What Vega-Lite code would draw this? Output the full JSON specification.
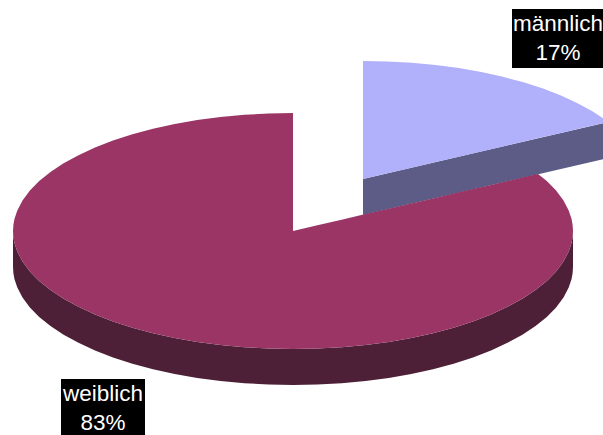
{"$schema":"https://vega.github.io/schema/vega-lite/v6.json","width":603,"height":435,"autosize":{"type":"none"},"padding":0,"background":"white","view":{"stroke":null},
"datasets":{"pie":[
{"part":"männlich Seite","x":363,"y":179,"y2":215},{"part":"männlich Seite","x":603,"y":123.2,"y2":159.2},
{"part":"männlich","x":363,"y":61,"y2":179},{"part":"männlich","x":387.4,"y":61.4,"y2":173.3},{"part":"männlich","x":411.6,"y":62.8,"y2":167.7},{"part":"männlich","x":435.5,"y":65,"y2":162.1},{"part":"männlich","x":458.8,"y":68.1,"y2":156.7},{"part":"männlich","x":481.3,"y":72.1,"y2":151.5},{"part":"männlich","x":503,"y":76.8,"y2":146.4},{"part":"männlich","x":523.6,"y":82.3,"y2":141.6},{"part":"männlich","x":543,"y":88.6,"y2":137.1},{"part":"männlich","x":561,"y":95.6,"y2":132.9},{"part":"männlich","x":577.5,"y":103.2,"y2":129.1},{"part":"männlich","x":592.4,"y":111.3,"y2":125.6},{"part":"männlich","x":603,"y":118.2,"y2":123.2},
{"part":"weiblich Seite","x":13,"y":231,"y2":267},{"part":"weiblich Seite","x":13.4,"y":237.2,"y2":273.2},{"part":"weiblich Seite","x":14.5,"y":243.3,"y2":279.3},{"part":"weiblich Seite","x":17.3,"y":251.5,"y2":287.5},{"part":"weiblich Seite","x":22.5,"y":261.5,"y2":297.5},{"part":"weiblich Seite","x":29.9,"y":271.4,"y2":307.4},{"part":"weiblich Seite","x":39.2,"y":280.9,"y2":316.9},{"part":"weiblich Seite","x":50.5,"y":290,"y2":326},{"part":"weiblich Seite","x":63.6,"y":298.7,"y2":334.7},{"part":"weiblich Seite","x":78.5,"y":306.8,"y2":342.8},{"part":"weiblich Seite","x":95,"y":314.4,"y2":350.4},{"part":"weiblich Seite","x":113,"y":321.4,"y2":357.4},{"part":"weiblich Seite","x":132.4,"y":327.7,"y2":363.7},{"part":"weiblich Seite","x":153,"y":333.2,"y2":369.2},{"part":"weiblich Seite","x":174.7,"y":337.9,"y2":373.9},{"part":"weiblich Seite","x":197.2,"y":341.9,"y2":377.9},{"part":"weiblich Seite","x":220.5,"y":345,"y2":381},{"part":"weiblich Seite","x":244.4,"y":347.2,"y2":383.2},{"part":"weiblich Seite","x":268.6,"y":348.6,"y2":384.6},{"part":"weiblich Seite","x":293,"y":349,"y2":385},{"part":"weiblich Seite","x":317.4,"y":348.6,"y2":384.6},{"part":"weiblich Seite","x":341.6,"y":347.2,"y2":383.2},{"part":"weiblich Seite","x":365.5,"y":345,"y2":381},{"part":"weiblich Seite","x":388.8,"y":341.9,"y2":377.9},{"part":"weiblich Seite","x":411.3,"y":337.9,"y2":373.9},{"part":"weiblich Seite","x":433,"y":333.2,"y2":369.2},{"part":"weiblich Seite","x":453.6,"y":327.7,"y2":363.7},{"part":"weiblich Seite","x":473,"y":321.4,"y2":357.4},{"part":"weiblich Seite","x":491,"y":314.4,"y2":350.4},{"part":"weiblich Seite","x":507.5,"y":306.8,"y2":342.8},{"part":"weiblich Seite","x":522.4,"y":298.7,"y2":334.7},{"part":"weiblich Seite","x":535.5,"y":290,"y2":326},{"part":"weiblich Seite","x":546.8,"y":280.9,"y2":316.9},{"part":"weiblich Seite","x":556.1,"y":271.4,"y2":307.4},{"part":"weiblich Seite","x":563.5,"y":261.5,"y2":297.5},{"part":"weiblich Seite","x":568.7,"y":251.5,"y2":287.5},{"part":"weiblich Seite","x":571.5,"y":243.3,"y2":279.3},{"part":"weiblich Seite","x":572.6,"y":237.2,"y2":273.2},{"part":"weiblich Seite","x":573,"y":231,"y2":267},
{"part":"weiblich","x":13,"y":231,"y2":231},{"part":"weiblich","x":13.4,"y":224.8,"y2":237.2},{"part":"weiblich","x":14.5,"y":218.7,"y2":243.3},{"part":"weiblich","x":17.3,"y":210.5,"y2":251.5},{"part":"weiblich","x":22.5,"y":200.5,"y2":261.5},{"part":"weiblich","x":29.9,"y":190.6,"y2":271.4},{"part":"weiblich","x":39.2,"y":181.1,"y2":280.9},{"part":"weiblich","x":50.5,"y":172,"y2":290},{"part":"weiblich","x":63.6,"y":163.3,"y2":298.7},{"part":"weiblich","x":78.5,"y":155.2,"y2":306.8},{"part":"weiblich","x":95,"y":147.6,"y2":314.4},{"part":"weiblich","x":113,"y":140.6,"y2":321.4},{"part":"weiblich","x":132.4,"y":134.3,"y2":327.7},{"part":"weiblich","x":153,"y":128.8,"y2":333.2},{"part":"weiblich","x":174.7,"y":124.1,"y2":337.9},{"part":"weiblich","x":197.2,"y":120.1,"y2":341.9},{"part":"weiblich","x":220.5,"y":117,"y2":345},{"part":"weiblich","x":244.4,"y":114.8,"y2":347.2},{"part":"weiblich","x":268.6,"y":113.4,"y2":348.6},{"part":"weiblich","x":293,"y":113,"y2":349},{"part":"weiblich","x":293,"y":231,"y2":349},{"part":"weiblich","x":317.4,"y":225.3,"y2":348.6},{"part":"weiblich","x":341.6,"y":219.7,"y2":347.2},{"part":"weiblich","x":365.5,"y":214.1,"y2":345},{"part":"weiblich","x":388.8,"y":208.7,"y2":341.9},{"part":"weiblich","x":411.3,"y":203.5,"y2":337.9},{"part":"weiblich","x":433,"y":198.4,"y2":333.2},{"part":"weiblich","x":453.6,"y":193.6,"y2":327.7},{"part":"weiblich","x":473,"y":189.1,"y2":321.4},{"part":"weiblich","x":491,"y":184.9,"y2":314.4},{"part":"weiblich","x":507.5,"y":181.1,"y2":306.8},{"part":"weiblich","x":522.4,"y":177.6,"y2":298.7},{"part":"weiblich","x":535.5,"y":174.6,"y2":290},{"part":"weiblich","x":538,"y":174,"y2":288.1},{"part":"weiblich","x":546.8,"y":181.1,"y2":280.9},{"part":"weiblich","x":556.1,"y":190.6,"y2":271.4},{"part":"weiblich","x":563.5,"y":200.5,"y2":261.5},{"part":"weiblich","x":568.7,"y":210.5,"y2":251.5},{"part":"weiblich","x":571.5,"y":218.7,"y2":243.3},{"part":"weiblich","x":572.6,"y":224.8,"y2":237.2},{"part":"weiblich","x":573,"y":231,"y2":231}
],
"boxes":[{"label":"männlich","x":512,"x2":603,"y":9,"y2":68},{"label":"weiblich","x":61,"x2":145,"y":379,"y2":435}],
"texts":[{"text":"männlich","x":558,"y":31},{"text":"17%","x":558,"y":60},{"text":"weiblich","x":103,"y":401},{"text":"83%","x":103,"y":430}]},
"layer":[
{"data":{"name":"pie"},"mark":{"type":"area","orient":"vertical","interpolate":"linear","clip":true},
"encoding":{
"x":{"field":"x","type":"quantitative","scale":{"domain":[0,603],"zero":false,"nice":false},"axis":null},
"y":{"field":"y","type":"quantitative","scale":{"domain":[435,0],"zero":false,"nice":false},"axis":null,"stack":null},
"y2":{"field":"y2"},
"color":{"field":"part","type":"nominal","legend":null,"scale":{"domain":["männlich Seite","männlich","weiblich Seite","weiblich"],"range":["#5c5c87","#b0b0fb","#4d2038","#9a3566"]}}}},
{"data":{"name":"boxes"},"mark":{"type":"rect","color":"black"},
"encoding":{"x":{"field":"x","type":"quantitative"},"x2":{"field":"x2"},"y":{"field":"y","type":"quantitative"},"y2":{"field":"y2"}}},
{"data":{"name":"texts"},"mark":{"type":"text","color":"white","font":"Liberation Sans","fontSize":22.5,"align":"center","baseline":"alphabetic"},
"encoding":{"x":{"field":"x","type":"quantitative"},"y":{"field":"y","type":"quantitative"},"text":{"field":"text"}}}
]}
